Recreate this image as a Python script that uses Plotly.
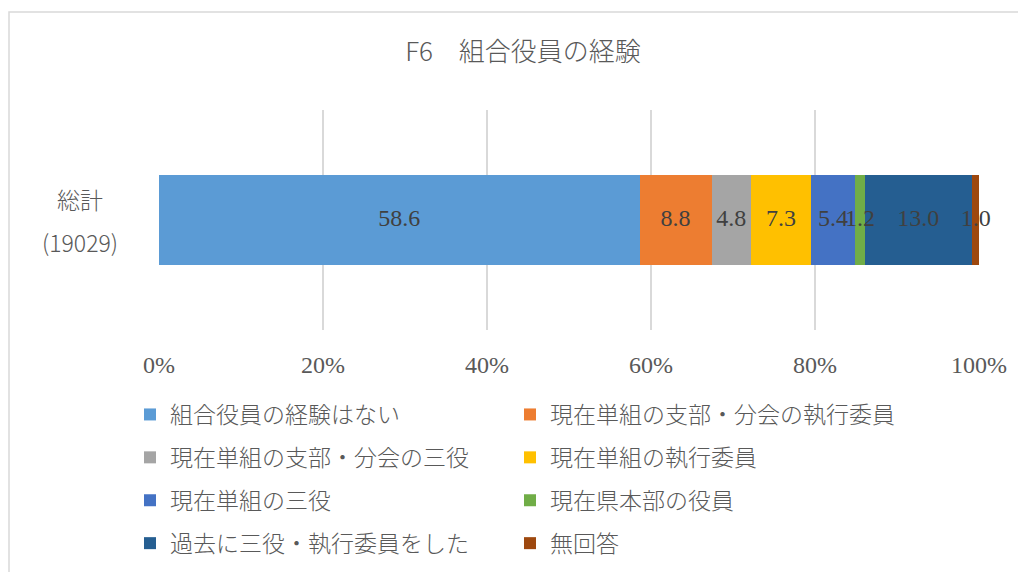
import plotly.graph_objects as go

# data
category = "総計"
n_label = "(19029)"
series_names = [
    "組合役員の経験はない",
    "現在単組の支部・分会の執行委員",
    "現在単組の支部・分会の三役",
    "現在単組の執行委員",
    "現在単組の三役",
    "現在県本部の役員",
    "過去に三役・執行委員をした",
    "無回答",
]
series_values = [58.6, 8.8, 4.8, 7.3, 5.4, 1.2, 13.0, 1.0]
tick_vals = [0, 20, 40, 60, 80, 100]
tick_text = ["0%", "20%", "40%", "60%", "80%", "100%"]

colors = ["#5b9bd5", "#ed7d31", "#a5a5a5", "#ffc000",
          "#4472c4", "#70ad47", "#255e91", "#9e480e"]

sans = "Noto Sans CJK JP"
serif = "Liberation Serif"
gray = "#595959"

fig = go.Figure()
for i, (name, val) in enumerate(zip(series_names, series_values)):
    fig.add_trace(go.Bar(
        x=[val], y=[category], name=name, orientation="h",
        marker=dict(color=colors[i], line_width=0),
        legend="legend" if i % 2 == 0 else "legend2",
        legendgroup=name,
    ))

# value labels at the middle of each stacked segment
mids = []
start = 0.0
for v in series_values:
    mids.append(start + v / 2)
    start += v
fig.add_trace(go.Scatter(
    x=mids, y=[category] * len(mids), mode="text",
    text=[f"{v:.1f}" for v in series_values], textposition="middle center",
    textfont=dict(family=serif, size=24, color="#404040"),
    showlegend=False, cliponaxis=False, hoverinfo="skip",
))

# page is drawn with ~8px offset, so positions below are in figure px
L, R, T, B = 151, 55, 102, 250
pw, ph = 1026 - L - R, 572 - T - B

def px_x(p):
    return (p - L) / pw

def px_y(p):
    return (T + ph - p) / ph

legend_font = dict(family=sans, size=23, color=gray, weight=300)
cat_font = dict(family=sans, size=23, color=gray, weight=300)

fig.update_layout(
    barmode="stack", bargap=0.59,
    width=1026, height=572,
    margin=dict(l=L, r=R, t=T, b=B),
    paper_bgcolor="white", plot_bgcolor="white",
    title=dict(text="F6　組合役員の経験", x=515 / 1026, xanchor="center",
               y=1 - 44 / 572, yanchor="middle",
               font=dict(family=sans, size=26, color=gray, weight=300)),
    xaxis=dict(range=[0, 100], tickvals=tick_vals, ticktext=tick_text,
               showgrid=True, gridcolor="#d9d9d9", gridwidth=1.5,
               zeroline=False, showline=False, ticks="",
               ticklabelstandoff=18,
               tickfont=dict(family=serif, size=24, color=gray)),
    yaxis=dict(showticklabels=False, showgrid=False, zeroline=False),
    legend=dict(x=px_x(122), y=px_y(385), xanchor="left", yanchor="top",
                orientation="v", tracegroupgap=10, traceorder="grouped",
                font=legend_font),
    legend2=dict(x=px_x(502), y=px_y(385), xanchor="left", yanchor="top",
                 orientation="v", tracegroupgap=10, traceorder="grouped",
                 font=legend_font),
    shapes=[dict(type="rect", xref="paper", yref="paper",
                 x0=px_x(1), x1=px_x(1030), y0=px_y(580), y1=px_y(4),
                 line=dict(color="#d9d9d9", width=1.5), layer="below")],
    annotations=[
        dict(text=category, xref="paper", yref="y", x=px_x(72), y=category,
             xanchor="center", yanchor="middle", yshift=21, showarrow=False,
             font=cat_font),
        dict(text=n_label, xref="paper", yref="y", x=px_x(72), y=category,
             xanchor="center", yanchor="middle", yshift=-22, showarrow=False,
             font=cat_font),
    ],
)

fig.write_html("out.html")
